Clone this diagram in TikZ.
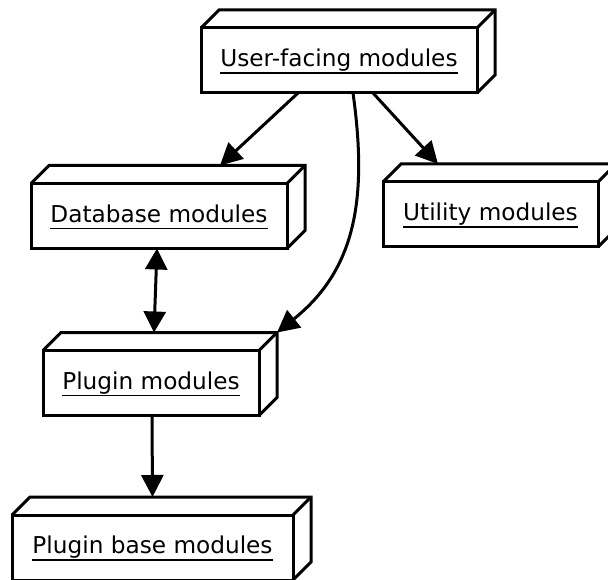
\documentclass[tikz,border=0pt]{standalone}
\usepackage{fontspec}
\setmainfont{DejaVu Sans}
\usetikzlibrary{arrows.meta}

% underlined module name; the rule sits at a fixed distance below the baseline
\newsavebox\modlabelbox
\newcommand\modlabel[1]{\sbox\modlabelbox{#1}\rlap{\rule[-7.3pt]{\wd\modlabelbox}{1.7pt}}\usebox\modlabelbox}

\tikzset{
  modbox/.style={draw, line width=3pt, line join=miter, outer sep=0pt, inner sep=0pt,
    minimum height=65pt, text height=17.6pt, text depth=5.5pt,
    font=\fontsize{23.2}{28}\selectfont},
  depface/.style={line width=3pt, line join=miter},
  dep/.style={line width=3pt, -{Triangle[length=22pt,width=22pt]}},
  depboth/.style={line width=3pt, {Triangle[length=21pt,width=22pt]}-{Triangle[length=21pt,width=22pt]}},
}

% top and side faces of a 3D module box
\newcommand\modfaces[1]{%
  \draw[depface] (#1.north west) -- ++(18,-18) -- ([shift={(18,-18)}]#1.north east)
    -- ([shift={(18,-18)}]#1.south east) -- (#1.south east);
  \draw[depface] (#1.north east) -- ++(18,-18);
}

\begin{document}
\begin{tikzpicture}[x=1pt, y=-1pt]
  \useasboundingbox (0,0) rectangle (608,580);
  \clip (0,0) rectangle (608,580);
  \fill[white] (0,0) rectangle (608,580);

  \node[modbox, minimum width=276pt] (uf) at (339,60.5) {\modlabel{User-facing modules}};
  \node[modbox, minimum width=256pt] (db) at (159,216) {\modlabel{Database modules}};
  \node[modbox, minimum width=215pt] (ut) at (490.5,214.5) {\modlabel{Utility modules}};
  \node[modbox, minimum width=216pt] (pl) at (151,383) {\modlabel{Plugin modules}};
  \node[modbox, minimum width=281pt] (pb) at (152.5,547.5) {\modlabel{Plugin base modules}};

  \modfaces{uf}
  \modfaces{db}
  \modfaces{ut}
  \modfaces{pl}
  \modfaces{pb}

  \draw[dep] ([xshift=-41pt]uf.south) -- ([shift={(61,-18)}]db.north);
  \draw[dep] ([xshift=34pt]uf.south) -- ([shift={(-52.5,-18)}]ut.north);
  \draw[dep] ([xshift=14pt]uf.south) .. controls (368,200) and (355,270) .. ([shift={(18,-18)}]pl.north east);
  \draw[depboth] ([xshift=-2pt]db.south) -- ([shift={(3,-18)}]pl.north);
  \draw[dep] ([xshift=1pt]pl.south) -- ([shift={(0,-18)}]pb.north);
\end{tikzpicture}
\end{document}
